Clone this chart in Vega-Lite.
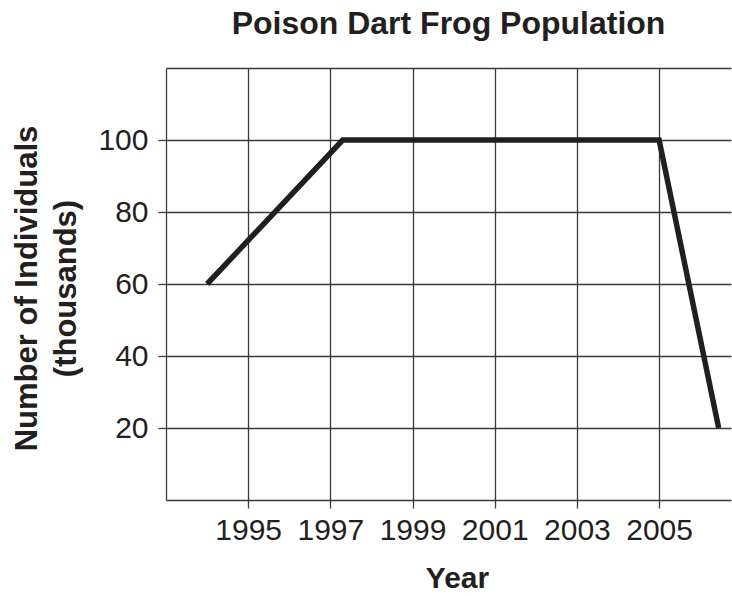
{
  "$schema": "https://vega.github.io/schema/vega-lite/v6.json",
  "autosize": "none",
  "width": 565,
  "height": 432,
  "padding": {"left": 166, "top": 68, "right": 1, "bottom": 96},
  "background": "white",
  "config": {
    "view": {"stroke": null},
    "font": "Liberation Sans",
    "title": {"fontSize": 32, "fontWeight": "bold", "color": "#231f20", "font": "Liberation Sans"},
    "axis": {
      "labelFont": "Liberation Sans",
      "titleFont": "Liberation Sans",
      "labelColor": "#231f20",
      "titleColor": "#231f20",
      "gridColor": "#3a3a3a",
      "gridWidth": 1.3,
      "gridOpacity": 1,
      "tickColor": "#3a3a3a",
      "tickWidth": 1.3,
      "domain": false
    }
  },
  "title": {"text": "Poison Dart Frog Population", "anchor": "middle", "baseline": "alphabetic", "offset": 2},
  "data": {
    "values": [
      {"year": 1994, "population": 60},
      {"year": 1997.3, "population": 100},
      {"year": 2005, "population": 100},
      {"year": 2006.45, "population": 20}
    ]
  },
  "mark": {"type": "line", "color": "#231f20", "strokeWidth": 5.5, "strokeJoin": "miter", "strokeCap": "butt", "clip": false},
  "encoding": {
    "x": {
      "field": "year",
      "type": "quantitative",
      "scale": {"domain": [1993, 2006.75], "nice": false, "zero": false},
      "axis": {
        "values": [1993, 1995, 1997, 1999, 2001, 2003, 2005],
        "format": "d",
        "labelExpr": "datum.value == 1993 ? '' : datum.label",
        "labelFontSize": 30,
        "labelPadding": 7,
        "tickSize": 8,
        "tickOpacity": {"condition": {"test": "datum.value == 1993", "value": 0}, "value": 1},
        "title": "Year",
        "titleFontSize": 30,
        "titleFontWeight": "bold",
        "titleBaseline": "alphabetic",
        "titleAlign": "center",
        "titleX": 291,
        "titleY": 87
      }
    },
    "y": {
      "field": "population",
      "type": "quantitative",
      "scale": {"domain": [0, 120], "nice": false},
      "axis": {
        "values": [0, 20, 40, 60, 80, 100, 120],
        "labelExpr": "(datum.value == 0 || datum.value == 120) ? '' : datum.label",
        "labelFontSize": 30,
        "labelPadding": 10,
        "tickSize": 8,
        "tickOpacity": {"condition": {"test": "datum.value == 0 || datum.value == 120", "value": 0}, "value": 1},
        "title": ["Number of Individuals", "(thousands)"],
        "titleFontSize": 31,
        "titleFontWeight": "bold",
        "titleLineHeight": 39,
        "titleBaseline": "alphabetic",
        "titleAngle": -90,
        "titleAlign": "center",
        "titleX": -130,
        "titleY": 220
      }
    }
  }
}
